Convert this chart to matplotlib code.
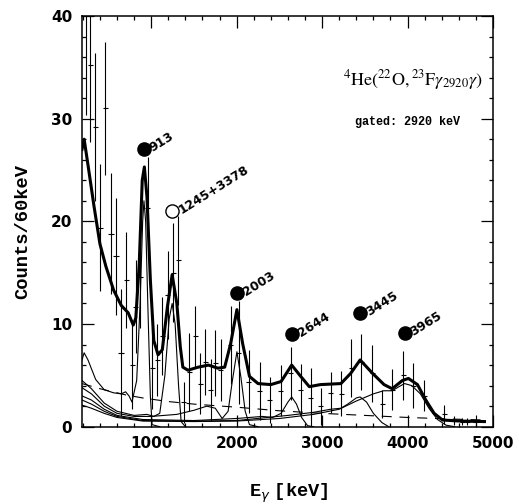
import numpy as np
import matplotlib
matplotlib.use('Agg')
import matplotlib.pyplot as plt
from matplotlib.ticker import MultipleLocator

# measured spectrum (gated on 2920 keV): bin centre, counts, error
e_data = [240, 287, 346, 404, 463, 530, 588, 647, 709, 776, 820, 870, 960,
          1010, 1069, 1128, 1193, 1256, 1315, 1381, 1448, 1518, 1575, 1635,
          1694, 1752, 1811, 1928, 2025, 2143, 2272, 2389, 2514, 2631, 2749,
          2866, 2983, 3100, 3226, 3343, 3460, 3589, 3706, 3823, 3948, 4069,
          4194, 4428, 4545, 4643, 4700, 4800]
counts = [42.0, 35.2, 29.2, 19.4, 31.0, 18.8, 16.6, 7.2, 14.3, 6.0, 11.7,
          14.6, 21.3, 5.7, 6.5, 8.8, 12.8, 15.0, 16.2, 2.4, 5.3, 8.8, 4.2,
          6.3, 3.6, 6.2, 5.5, 8.0, 7.2, 4.4, 3.5, 2.6, 3.5, 5.2, 3.6, 2.8,
          2.0, 3.3, 3.2, 5.7, 6.3, 5.2, 2.2, 3.6, 5.0, 4.0, 3.0, 1.2, 0.6,
          0.5, 0.5, 0.5]
errors = [11.6, 7.5, 7.2, 6.2, 6.5, 5.9, 5.7, 6.2, 4.7, 4.3, 4.5, 5.0, 5.0,
          4.0, 3.5, 3.8, 4.3, 4.8, 4.3, 2.0, 3.8, 3.0, 3.0, 3.2, 3.0, 3.2,
          3.0, 3.8, 5.0, 3.1, 2.8, 2.2, 2.5, 2.6, 2.5, 2.9, 1.8, 2.0, 2.2,
          2.8, 2.7, 2.8, 1.4, 2.0, 2.4, 2.2, 1.5, 0.9, 0.4, 0.35, 0.3, 0.6]

# total fit
e_total = [190, 215, 260, 330, 400, 470, 560, 650, 730, 790, 820, 860, 895,
           920, 950, 990, 1030, 1080, 1130, 1190, 1245, 1300, 1340, 1370,
           1430, 1550, 1670, 1780, 1860, 1930, 2003, 2070, 2150, 2250, 2400,
           2520, 2644, 2750, 2850, 2980, 3220, 3335, 3445, 3590, 3725, 3820,
           3940, 4010, 4116, 4213, 4311, 4409, 4620, 4900]
c_total = [27.0, 28.0, 25.5, 21.5, 17.8, 15.6, 13.3, 11.8, 11.1, 9.9, 10.6,
           15.9, 24.0, 25.3, 22.4, 14.3, 8.4, 7.0, 7.5, 11.7, 14.8, 12.0,
           7.8, 5.8, 5.5, 5.8, 6.0, 5.7, 5.8, 8.1, 11.4, 8.1, 4.9, 4.2, 4.1,
           4.4, 6.0, 4.9, 3.9, 4.1, 4.2, 5.2, 6.5, 5.2, 4.1, 3.7, 4.5, 4.7,
           4.1, 2.6, 1.3, 0.65, 0.55, 0.5]

# individual line response functions
e_913 = [190, 215, 260, 350, 450, 560, 650, 700, 740, 775, 830, 870, 900,
         915, 935, 960, 990, 1010, 1100]
c_913 = [6.5, 7.2, 6.5, 4.6, 3.6, 3.3, 3.2, 3.4, 3.0, 2.4, 4.5, 12.0, 20.0,
         22.0, 20.0, 12.0, 3.0, 0.2, 0.0]

e_1245 = [190, 300, 450, 600, 800, 950, 1030, 1100, 1160, 1210, 1245, 1280,
          1320, 1350, 1400]
c_1245 = [4.5, 3.7, 2.3, 1.5, 1.1, 1.2, 1.0, 1.3, 5.0, 10.5, 12.0, 10.0,
          4.0, 0.5, 0.0]

e_2003 = [190, 300, 450, 600, 800, 1000, 1300, 1500, 1650, 1750, 1830, 1900,
          1950, 2003, 2050, 2100, 2150, 2250]
c_2003 = [3.8, 3.2, 2.0, 1.3, 1.0, 1.0, 1.2, 1.6, 2.0, 1.8, 0.8, 1.5, 4.5,
          7.3, 4.8, 1.5, 0.2, 0.0]

e_2644 = [190, 300, 450, 600, 900, 1500, 2000, 2300, 2420, 2520, 2600, 2644,
          2700, 2760, 2830, 2900]
c_2644 = [3.0, 2.6, 1.7, 1.1, 0.7, 0.6, 0.8, 1.0, 0.9, 1.3, 2.4, 2.9, 2.2,
          0.9, 0.1, 0.0]

e_3445 = [190, 300, 450, 600, 900, 1500, 2000, 2300, 2600, 2900, 3100, 3220,
          3300, 3400, 3445, 3520, 3600, 3700, 3780]
c_3445 = [2.6, 2.2, 1.5, 1.0, 0.6, 0.55, 0.6, 0.85, 1.1, 1.4, 1.7, 1.8, 2.2,
          2.8, 2.9, 2.4, 1.3, 0.4, 0.0]

e_3965 = [190, 300, 450, 600, 900, 1500, 2000, 2500, 2900, 3200, 3400, 3600,
          3720, 3820, 3900, 3965, 4050, 4150, 4250, 4350, 4450, 4550]
c_3965 = [2.1, 1.8, 1.3, 0.9, 0.55, 0.5, 0.55, 0.8, 1.2, 1.7, 2.5, 3.2, 3.5,
          3.5, 3.9, 4.2, 4.0, 3.2, 1.8, 0.7, 0.15, 0.0]

# background
e_bg = [190, 400, 700, 900, 1200, 1500, 2000, 2500, 3000, 3500, 4000, 4500,
        4900]
c_bg = [4.2, 3.7, 3.1, 2.8, 2.45, 2.2, 1.9, 1.55, 1.3, 1.1, 0.9, 0.75, 0.65]

# peak markers
peak_e = [913, 2003, 2644, 3445, 3965]
peak_y = [27.0, 13.0, 9.0, 11.1, 9.1]
peak_labels = ['913', '2003', '2644', '3445', '3965']
open_e = 1245
open_y = 21.0
open_label = '1245+3378'


fig = plt.figure(figsize=(5.19, 5.04), dpi=100)
ax = fig.add_axes([82 / 519, 1 - 426.7 / 504, 411 / 519, 410.7 / 504])

ax.errorbar(e_data, counts, yerr=errors, xerr=30, fmt='none',
            ecolor='black', elinewidth=0.8, capsize=0)

for e, c in [(e_913, c_913), (e_1245, c_1245), (e_2003, c_2003),
             (e_2644, c_2644), (e_3445, c_3445), (e_3965, c_3965)]:
    ax.plot(e, c, color='black', lw=0.8)
ax.plot(e_bg, c_bg, color='black', lw=0.8, dashes=(9, 7))
ax.plot(e_total, c_total, color='black', lw=2.2)

ax.plot(peak_e, peak_y, 'o', color='black', ms=9.5, clip_on=False)
ax.plot([open_e], [open_y], 'o', mfc='white', mec='black', mew=1.0, ms=9.5)
for e, y, lab in zip(peak_e + [open_e], peak_y + [open_y],
                     peak_labels + [open_label]):
    ax.annotate(lab, (e, y), xytext=(6.5, -2), textcoords='offset points',
                rotation=32, rotation_mode='anchor', ha='left',
                va='baseline', fontsize=9, fontweight='bold',
                family='DejaVu Sans')

ax.text(0.975, 0.83,
        r'$^{4}\mathrm{He}(^{22}\mathrm{O},^{23}\mathrm{F}\gamma_{2920}\gamma)$',
        transform=ax.transAxes, ha='right', va='baseline', fontsize=13,
        math_fontfamily='stix')
ax.text(0.791, 0.735, 'gated: 2920 keV', transform=ax.transAxes,
        ha='center', va='baseline', fontsize=8.5, fontweight='bold',
        family='Liberation Mono')

ax.set_xlim(190, 5000)
ax.set_ylim(0, 40)
ax.xaxis.set_major_locator(MultipleLocator(1000))
ax.xaxis.set_minor_locator(MultipleLocator(200))
ax.yaxis.set_major_locator(MultipleLocator(10))
ax.yaxis.set_minor_locator(MultipleLocator(2))
ax.tick_params(which='both', direction='in', top=True, right=True,
               width=0.9, labelsize=11, pad=7)
ax.tick_params(which='major', length=8.5)
ax.tick_params(which='minor', length=3.2)
for lab in ax.get_xticklabels() + ax.get_yticklabels():
    lab.set_fontweight('bold')
for sp in ax.spines.values():
    sp.set_linewidth(1.1)

fig.text(0.044, 0.541, 'Counts/60keV', rotation=90, ha='center',
         va='center', fontsize=13.5, fontweight='bold',
         family='Liberation Mono')
fig.text(289 / 519, (504 - 497) / 504, r'E$_{\gamma}\;$[keV]', ha='center',
         va='baseline', fontsize=13.5, fontweight='bold',
         family='Liberation Mono')

fig.savefig('out.png', dpi=100)
